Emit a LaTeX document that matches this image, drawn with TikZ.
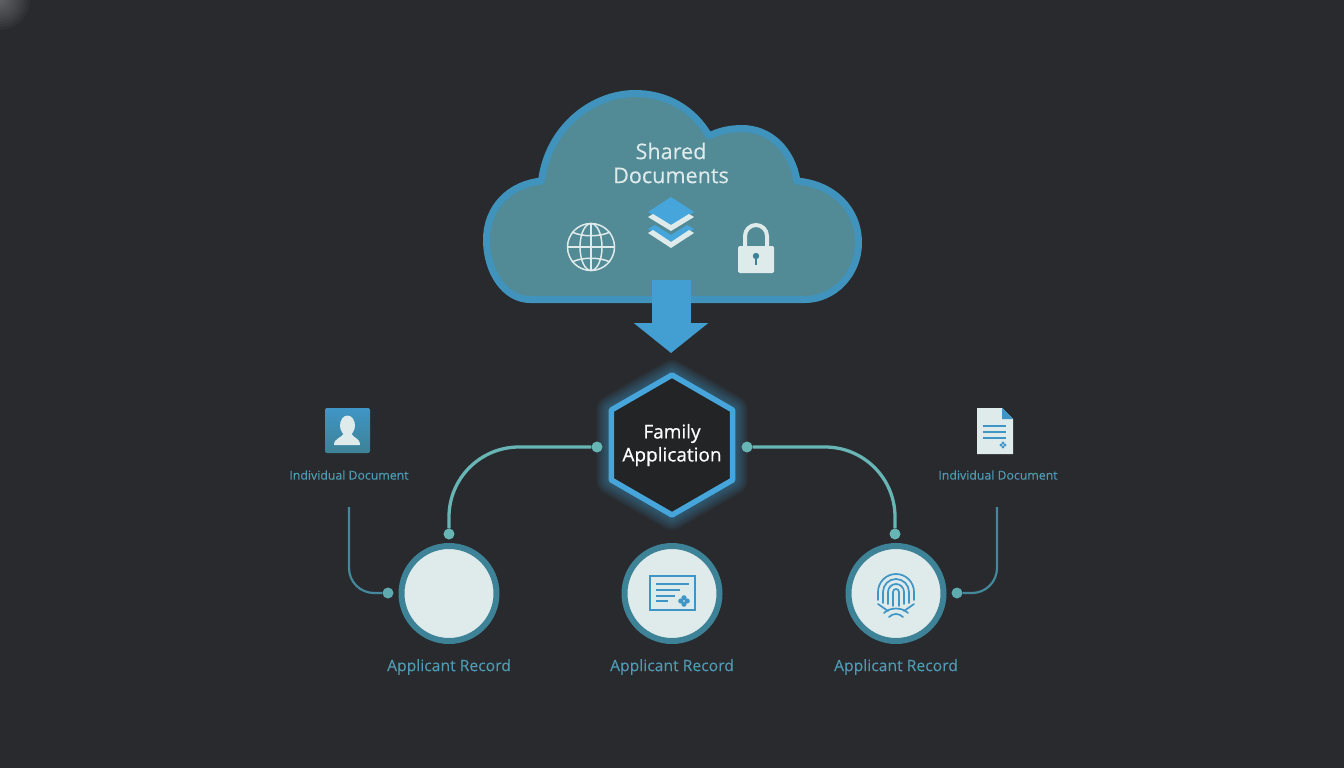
\documentclass[tikz,border=0pt]{standalone}
\usepackage{fontspec}
\setmainfont[FakeBold=0.2]{Open Sans}
\newfontfamily\familyfont[FakeBold=0.6]{Open Sans}
\usepackage{tikz}
\usetikzlibrary{shapes, arrows.meta, positioning, calc}
\definecolor{bgdark}{HTML}{282A2D}
\definecolor{cloudrim}{HTML}{3F93BD}
\definecolor{cloudfill}{HTML}{528A96}
\definecolor{iconpale}{HTML}{DFEBEB}
\definecolor{skyblue}{HTML}{46A6DC}
\definecolor{ringteal}{HTML}{3D8296}
\definecolor{linkteal}{HTML}{67B5B5}
\definecolor{linkdark}{HTML}{43899B}
\definecolor{labelteal}{HTML}{4F9BB3}
\tikzset{
    hexbox/.style={
        regular polygon, regular polygon sides=6, shape border rotate=30,
        draw=skyblue, fill=bgdark!85!black, line width=5.5pt, line join=round,
        minimum size=140pt, inner sep=0pt
    },
    hexlabel/.style={align=center, text=white, inner sep=0pt, font=\familyfont\fontsize{19}{23}\selectfont},
    glowline/.style={preaction={draw=skyblue, line width=#1, line join=round, opacity=0.07}},
    record/.style={circle, draw=ringteal, fill=iconpale, line width=6pt, minimum size=95pt, inner sep=0pt},
    recordlabel/.style={text=labelteal, font=\fontsize{15.7}{18}\selectfont, inner sep=0pt},
    doclabel/.style={text=labelteal, font=\fontsize{12.3}{14}\selectfont, inner sep=0pt},
    linkdot/.style={circle, fill=linkteal, minimum size=11pt, inner sep=0pt},
    linkdotdark/.style={circle, fill=linkteal!75!linkdark, minimum size=11pt, inner sep=0pt},
    link/.style={draw=linkteal, line width=3.3pt, rounded corners=70pt},
    doclink/.style={draw=linkdark, line width=2.2pt, rounded corners=25pt},
    bigarrow/.style={draw=skyblue!95!black, line width=39pt, -{Triangle[length=30pt,width=73pt]}},
    glyph/.style={draw=iconpale, line width=1.5pt},
    certline/.style={draw=skyblue!90!black, line width=2pt},
    printline/.style={draw=skyblue!90!black, line width=1.7pt, line cap=round}
}
\begin{document}
\begin{tikzpicture}[x=1pt, y=-1pt]
    \useasboundingbox (0,0) rectangle (1344,768);
    \fill [bgdark] (0,0) rectangle (1344,768);
    \begin{scope}
        \clip (0,0) rectangle (40,40);
        \foreach \r in {3,6,...,30} {
            \fill [white, opacity=0.03] (0,0) circle (\r);
        }
    \end{scope}

    % cloud
    \draw [fill=cloudfill, draw=cloudrim, line width=7pt, line join=round]
        (530,299.5) .. controls (505,299.5) and (486.5,272) .. (486.5,240)
        .. controls (486.5,207) and (510,184) .. (541.5,181)
        .. controls (548,128) and (592,93.5) .. (635,93.5)
        .. controls (668,93.5) and (694,110) .. (709,136)
        .. controls (719,131) and (730,128.5) .. (742,128.5)
        .. controls (770,128.5) and (792,150) .. (797,181)
        .. controls (832,184) and (858.5,208) .. (858.5,243)
        .. controls (858.5,274) and (834,299.5) .. (805,299.5) -- cycle;
    \node [text=iconpale, align=center, font=\fontsize{21.6}{24}\selectfont, inner sep=0pt] (cloudtitle) at (671,163) {Shared\\Documents};

    % globe
    \node [circle, glyph, minimum size=47pt, inner sep=0pt] (globe) at (591,247) {};
    \draw [glyph] (globe.center) ellipse (11 and 23.5);
    \draw [glyph] (globe.north) -- (globe.south);
    \draw [glyph] (globe.west) -- (globe.east);
    \draw [glyph] (572,232) .. controls (582,237) and (600,237) .. (610,232);
    \draw [glyph] (572,262) .. controls (582,257) and (600,257) .. (610,262);

    % layers
    \fill [skyblue] (671,197) -- (694,212) -- (671,226) -- (648,212) -- cycle;
    \fill [iconpale] (648,217) -- (653,214) -- (671,225) -- (689,214) -- (694,217) -- (671,231) -- cycle;
    \fill [skyblue] (655,225) -- (671,235) -- (687,225) -- (694,229) -- (671,243) -- (648,229) -- cycle;
    \fill [iconpale] (648,233) -- (653,230) -- (671,242) -- (689,230) -- (694,233) -- (671,248) -- cycle;

    % lock
    \draw [draw=iconpale, line width=4pt] (745,248) -- (745,236) arc (180:360:11) -- (767,248);
    \fill [iconpale, rounded corners=1.5pt] (738,246) rectangle (774,273);
    \fill [ringteal] (756,256) circle (3.2);
    \fill [ringteal] (754.8,256) rectangle (757.2,265);

    % family application
    \node [hexbox, glowline=30pt, glowline=26pt, glowline=22pt, glowline=18pt, glowline=14pt, glowline=10pt] (family) at (672,445) {};
    \node [hexlabel] (familytext) at (family.center) {Family\\Application};
    \coordinate (cloudout) at (671,280);
    \coordinate (familyin) at (671,353);
    \draw [bigarrow] (cloudout) -- (familyin);

    % applicant records
    \node [record] (recleft) at (449,593.5) {};
    \node [record] (recmid) at (672,593.5) {};
    \node [record] (recright) at (896,593.5) {};
    \node [recordlabel, below=15pt of recleft] (recleftlabel) {Applicant Record};
    \node [recordlabel, below=15pt of recmid] (recmidlabel) {Applicant Record};
    \node [recordlabel, below=15pt of recright] (recrightlabel) {Applicant Record};

    % certificate
    \draw [certline] (650,576) rectangle (695,610);
    \foreach \y/\e in {584/689, 590/680, 596/675, 601/668} {
        \draw [certline] (656,\y) -- (\e,\y);
    }
    \foreach \a in {0,90,180,270} {
        \fill [skyblue!90!black] ($(684,601)+(\a:3.2)$) circle (2.6);
    }

    % fingerprint
    \foreach \r/\e in {3/606,8/604,13/603,18/600} {
        \draw [printline] (896-\r,\e) -- (896-\r,592) arc (180:360:\r) -- (896+\r,\e);
    }
    \draw [printline] (878,604) -- (888,611);
    \draw [printline] (914,604) -- (904,611);
    \draw [printline] (884,613) .. controls (890,607) and (902,607) .. (908,613);
    \draw [printline] (889,617) .. controls (893,613) and (899,613) .. (903,617);

    % individual documents
    \node [draw=none, rounded corners=2pt, minimum size=45pt, inner sep=0pt, top color=skyblue!90!black, bottom color=ringteal] (usertile) at (347.5,430.5) {};
    \fill [iconpale] (347.5,425.5) ellipse (7.5 and 10);
    \fill [iconpale] (334,445) .. controls (334,438) and (342,438) .. (344,433) -- (351,433) .. controls (353,438) and (360,438) .. (360,445) -- cycle;
    \node [doclabel] (docleftlabel) at (349,475) {Individual Document};

    \fill [iconpale] (977,408) -- (1002,408) -- (1013,419) -- (1013,454) -- (977,454) -- cycle;
    \fill [skyblue!90!black] (1002,408) -- (1013,419) -- (1002,419) -- cycle;
    \foreach \y in {426,432,438} {
        \draw [certline, line width=1.6pt] (983,\y) -- (1006,\y);
    }
    \foreach \a in {0,90,180,270} {
        \fill [skyblue!90!black] ($(1003,445)+(\a:2)$) circle (1.6);
    }
    \node [doclabel] (docrightlabel) at (998,475) {Individual Document};

    % connectors
    \node [linkdot] (famleft) at (597,447) {};
    \node [linkdot] (famright) at (747,447) {};
    \node [linkdot] (recleftin) at (449,534) {};
    \node [linkdot] (recrightin) at (895,534) {};
    \draw [link] (famleft) -| (recleftin);
    \draw [link] (famright) -| (recrightin);

    \coordinate (docleftout) at (349,507);
    \coordinate (docrightout) at (997,507);
    \node [linkdotdark] (recleftdoc) at (388,593) {};
    \node [linkdotdark] (recrightdoc) at (957,593) {};
    \draw [doclink] (docleftout) |- (recleftdoc);
    \draw [doclink] (docrightout) |- (recrightdoc);
\end{tikzpicture}
\end{document}
